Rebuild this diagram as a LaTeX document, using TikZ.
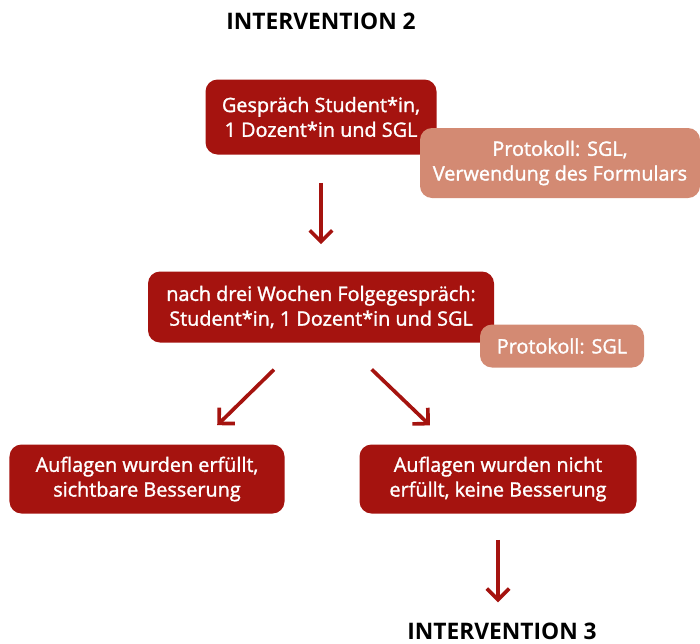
\documentclass[tikz,border=0pt]{standalone}
\usepackage{fontspec}
\setmainfont{Open Sans}
\newfontfamily\semifont{Open Sans}[FakeBold=1.5]
\usetikzlibrary{arrows.meta}
\definecolor{darkred}{HTML}{A5130F}
\definecolor{salmon}{HTML}{D38A73}
\tikzstyle{heading} = [font=\fontsize{16.2pt}{18pt}\selectfont\bfseries, inner sep=0pt, text=black]
\tikzstyle{talk} = [rectangle, rounded corners=0.3cm, fill=darkred, text=white, align=center, font=\semifont\fontsize{14.1pt}{17.6pt}\selectfont]
\tikzstyle{protocol} = [rectangle, rounded corners=0.3cm, fill=salmon, text=white, align=center, font=\semifont\fontsize{14.1pt}{17.6pt}\selectfont]
\tikzstyle{arrow} = [line width=2.6pt, draw=darkred, -{Straight Barb[length=0.28cm, width=0.56cm]}]
\begin{document}
\begin{tikzpicture}[node distance=2.4cm]

    \useasboundingbox (0,0) rectangle (17.5,-16.075);

    \node (title2) [heading] at (8.025,-0.525) {INTERVENTION 2};
    \node (talk1) [talk, below of=title2, minimum width=5.775cm, minimum height=1.875cm] {Gespräch Student*in,\\1 Dozent*in und SGL};
    \node (prot1) [protocol, right of=talk1, xshift=3.575cm, yshift=-1.15cm, minimum width=7cm, minimum height=1.75cm] {Protokoll: SGL,\\Verwendung des Formulars};
    \node (talk2) [talk, below of=talk1, yshift=-2.35cm, minimum width=8.65cm, minimum height=1.775cm] {nach drei Wochen Folgegespräch:\\Student*in, 1 Dozent*in und SGL};
    \node (prot2) [protocol, right of=talk2, xshift=3.625cm, yshift=-0.975cm, minimum width=4.1cm, minimum height=1.075cm] {Protokoll: SGL};
    \node (done) [talk, below of=talk2, xshift=-4.35cm, yshift=-1.9cm, minimum width=6.875cm, minimum height=1.725cm] {Auflagen wurden erfüllt,\\sichtbare Besserung};
    \node (notdone) [talk, below of=talk2, xshift=4.425cm, yshift=-1.9cm, minimum width=6.925cm, minimum height=1.725cm] {Auflagen wurden nicht\\erfüllt, keine Besserung};
    \node (title3) [heading, below of=notdone, xshift=0.1cm, yshift=-1.4cm] {INTERVENTION 3};

    \draw [arrow, shorten <=0.7cm, shorten >=0.675cm] (talk1.south) -- (talk1.south |- talk2.north);
    \draw [arrow, shorten <=0.96cm, shorten >=0.68cm] ([xshift=-0.49cm]talk2.south) -- ([xshift=1.27cm]done.north);
    \draw [arrow, shorten <=0.96cm, shorten >=0.68cm] ([xshift=0.575cm]talk2.south) -- ([xshift=-1.21cm]notdone.north);
    \draw [arrow, shorten <=0.65cm, shorten >=0.5cm] (notdone.south) -- (notdone.south |- title3.north);

\end{tikzpicture}
\end{document}
